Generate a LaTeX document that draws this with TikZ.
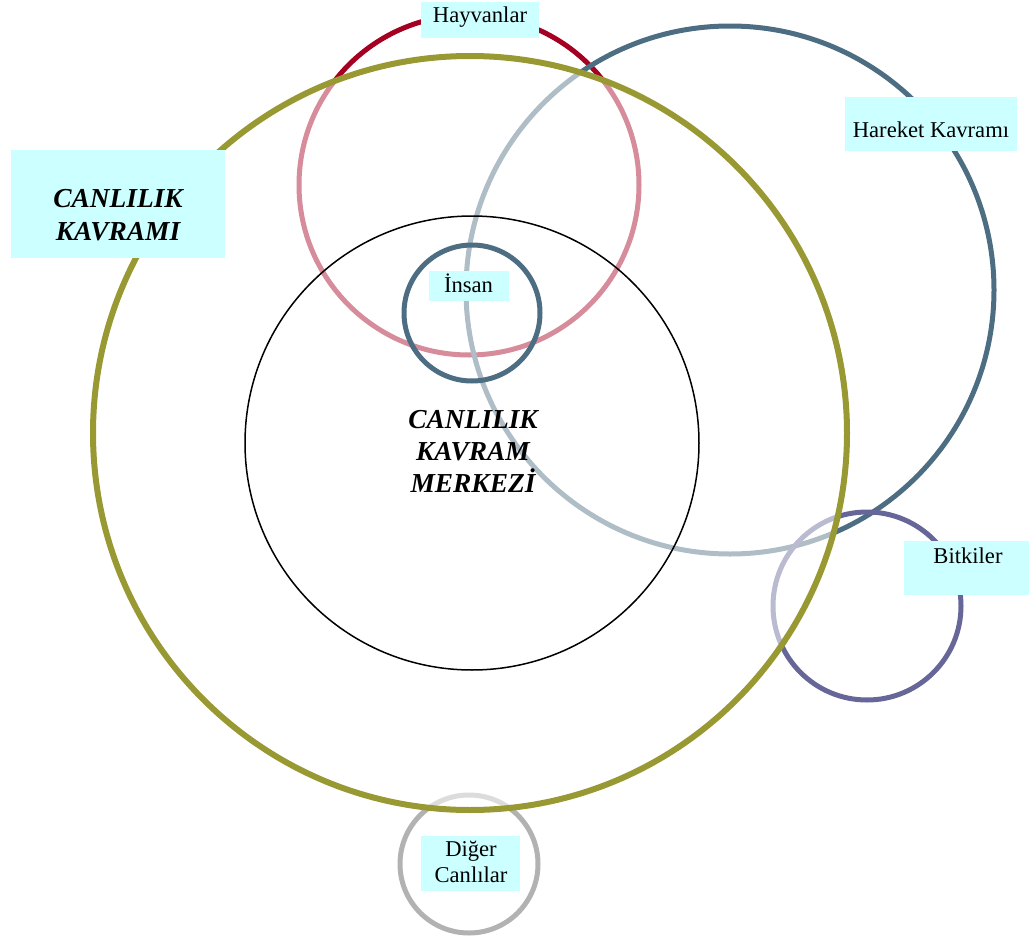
\documentclass[tikz,border=0pt]{standalone}
\usepackage{fontspec}
\setmainfont{Liberation Serif}
\usetikzlibrary{positioning}
\definecolor{keyred}{RGB}{165, 0, 33}
\definecolor{keyolive}{RGB}{153, 153, 51}
\definecolor{keyslate}{RGB}{77, 109, 130}
\definecolor{keypurple}{RGB}{102, 102, 153}
\definecolor{keygray}{RGB}{178, 178, 178}
\definecolor{keycyan}{RGB}{204, 255, 255}
\tikzset{
  ring/.style={draw=#1, line width=2.5pt},
  tagbox/.style={fill=keycyan, inner sep=0pt},
  tagtext/.style={inner sep=0pt, align=center, font=\fontsize{11.3}{13}\selectfont},
  bigtext/.style={inner sep=0pt, align=center, font=\fontsize{13.7}{16.5}\selectfont\bfseries\itshape},
}

\begin{document}
\begin{tikzpicture}[x=0.5pt, y=-0.5pt]
  \useasboundingbox (0,0) rectangle (1029,937);
  % rings behind the big one
  \draw[ring=keyred] (469,185) circle [radius=170];
  \draw[ring=keyslate] (730,290) circle [radius=264];
  \draw[ring=keypurple] (867,606) circle [radius=94];
  \draw[ring=keygray] (469,864) circle [radius=69];
  % CANLILIK KAVRAMI
  \draw[draw=keyolive, line width=3pt, fill=white, fill opacity=0.55] (470,433) circle [radius=377];
  % centre
  \draw[black, line width=0.75pt] (472,443) circle [radius=227];
  \draw[ring=keyslate] (472,313) circle [radius=68];
  % labels
  \node[tagbox, minimum width=59pt, minimum height=18pt] (hayvbox) at (480,19.5) {};
  \node[tagtext, anchor=base] (hayv) at (480,23) {Hayvanlar};
  \node[tagbox, minimum width=86pt, minimum height=27pt] (harbox) at (931,124) {};
  \node[tagtext, anchor=base] (har) at (931,137) {Hareket Kavramı};
  \node[tagbox, minimum width=107pt, minimum height=54pt] (canbox) at (118,204) {};
  \node[bigtext, anchor=north] (can) at (118,189) {CANLILIK\\KAVRAMI};
  \node[tagbox, minimum width=40pt, minimum height=15pt] (insbox) at (469,286) {};
  \node[tagtext, anchor=base] (ins) at (468.5,292) {İnsan};
  \node[bigtext, anchor=north, font=\fontsize{13.7}{16}\selectfont\bfseries\itshape] (merkez) at (473,410) {CANLILIK\\KAVRAM\\MERKEZİ};
  \node[tagbox, minimum width=62.5pt, minimum height=27pt] (bitbox) at (966.5,568) {};
  \node[tagtext, anchor=base] (bit) at (968,563) {Bitkiler};
  \node[tagbox, minimum width=49.5pt, minimum height=27.5pt] (digbox) at (470.5,863.5) {};
  \node[tagtext, anchor=north] (dig) at (471,841) {Diğer\\Canlılar};
\end{tikzpicture}
\end{document}
